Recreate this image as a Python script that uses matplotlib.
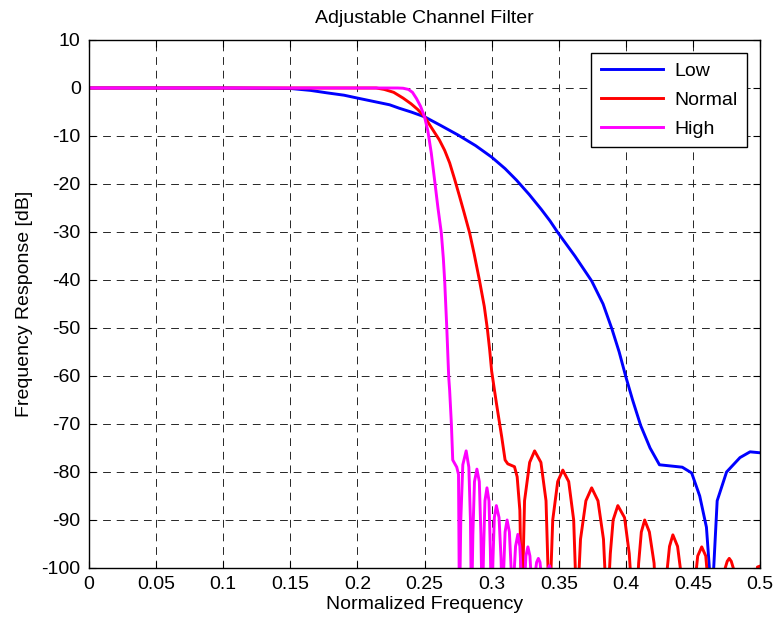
import matplotlib
matplotlib.use('Agg')
import matplotlib.pyplot as plt

plt.rcParams['font.family'] = ['Liberation Sans', 'DejaVu Sans']
plt.rcParams['axes.unicode_minus'] = False

# Low setting (blue)
low_f = [0, 0.1, 0.15, 0.165, 0.177, 0.19, 0.2, 0.212, 0.224, 0.231, 0.24, 0.25,
         0.262, 0.275, 0.288, 0.3, 0.31, 0.3185, 0.328, 0.337, 0.3435, 0.349, 0.362,
         0.3745, 0.383, 0.3896, 0.395, 0.4, 0.405, 0.411, 0.418, 0.425, 0.442,
         0.449, 0.455, 0.46, 0.4635, 0.4645, 0.468, 0.475, 0.485, 0.4925, 0.5]
low_db = [0, 0, -0.1, -0.5, -1.0, -1.5, -2.1, -2.8, -3.5, -4.2, -5.0, -6.0,
          -7.8, -9.8, -12.0, -14.4, -16.8, -19.2, -22.2, -25.3, -27.7, -30.0, -35.0,
          -40.2, -45.0, -50.2, -55.0, -60.2, -65.0, -70.3, -75.0, -78.5, -79.0,
          -80.2, -85.0, -91.5, -105, -105, -86.0, -80.0, -77.0, -75.8, -76.0]

# Normal setting (red)
norm_f = [0, 0.214, 0.22, 0.227, 0.234, 0.24, 0.245, 0.25, 0.255, 0.261, 0.265,
          0.2687, 0.2724, 0.276, 0.2795, 0.2836, 0.287, 0.291, 0.2945, 0.2968,
          0.2985, 0.3, 0.3035, 0.3075, 0.31, 0.312, 0.317, 0.319, 0.321,
          0.3225, 0.3245, 0.3283, 0.332, 0.3367, 0.3405,
          0.343, 0.3455, 0.3492, 0.353, 0.3574, 0.3611,
          0.3635, 0.3662, 0.3702, 0.3745, 0.3792, 0.3833,
          0.386, 0.3884, 0.3905, 0.394, 0.399, 0.4025,
          0.4055, 0.4075, 0.4095, 0.4115, 0.414, 0.4175, 0.421,
          0.423, 0.426, 0.429, 0.4305, 0.4325, 0.435, 0.4385, 0.441,
          0.4425, 0.4465, 0.45, 0.4515, 0.4535, 0.4565, 0.4595, 0.4612,
          0.4625, 0.4675, 0.4725, 0.474, 0.4755, 0.477, 0.4785, 0.48,
          0.481, 0.489, 0.4965, 0.498, 0.5]
norm_db = [0, 0, -0.3, -0.9, -2.1, -3.3, -4.5, -6.0, -8.2, -10.8, -13.0,
           -15.6, -19.0, -22.5, -26.0, -30.2, -34.6, -40.2, -45.5, -50.2,
           -54.5, -59.0, -65.6, -72.7, -77.5, -78.3, -78.9, -81.0, -88.0,
           -110, -86.0, -78.0, -75.6, -78.0, -86.0,
           -110, -90.0, -82.0, -79.6, -82.0, -90.0,
           -110, -94.0, -86.0, -83.3, -86.0, -94.0,
           -110, -97.0, -90.0, -87.0, -89.5, -97.0,
           -110, -110, -99.0, -92.5, -90.0, -92.5, -99.0,
           -110, -106, -110, -101.0, -95.5, -93.1, -95.5, -101.0,
           -110, -106, -110, -103.0, -97.5, -95.6, -97.5, -103.0,
           -110, -106, -110, -100.0, -98.6, -98.0, -98.6, -100.0,
           -110, -106, -110, -99.8, -99.6]

# High setting (magenta)
high_f = [0, 0.23, 0.234, 0.238, 0.241, 0.244, 0.247, 0.25, 0.2525, 0.255,
          0.2575, 0.26, 0.2625, 0.264, 0.265, 0.2666, 0.268, 0.2687, 0.27,
          0.271, 0.274, 0.2753,
          0.276, 0.277, 0.2785, 0.281, 0.283, 0.2842,
          0.285, 0.286, 0.2872, 0.289, 0.2908, 0.292,
          0.293, 0.294, 0.295, 0.2965, 0.298, 0.299,
          0.3, 0.301, 0.302, 0.3035, 0.3055, 0.307,
          0.308, 0.309, 0.31, 0.3115, 0.3132, 0.3145,
          0.3155, 0.3165, 0.3178, 0.3195, 0.321, 0.3218,
          0.3225, 0.3235, 0.3245, 0.3255, 0.327, 0.3285, 0.3297,
          0.3305, 0.3315, 0.3325, 0.3335, 0.3348, 0.336, 0.3368,
          0.3375, 0.3405, 0.3418, 0.343, 0.3442, 0.3455, 0.4, 0.5]
high_db = [0, 0, -0.05, -0.3, -0.9, -2.2, -3.8, -6.0, -9.0, -13.5,
           -19.2, -25.0, -30.2, -35.5, -40.2, -50.2, -60.2, -63.0, -70.0,
           -77.5, -79.0, -80.5,
           -110, -90.0, -78.5, -75.6, -79.0, -90.0,
           -110, -93.0, -82.0, -79.4, -82.0, -93.0,
           -110, -96.0, -86.0, -83.3, -86.0, -96.0,
           -110, -98.0, -89.5, -87.0, -89.5, -98.0,
           -110, -100.0, -92.5, -90.0, -92.5, -100.0,
           -110, -102.0, -95.5, -93.0, -95.5, -100.0,
           -110, -110, -103.0, -97.5, -95.6, -97.5, -103.0,
           -110, -110, -101.0, -98.8, -98.0, -98.8, -101.0,
           -110, -110, -100.5, -99.5, -100.5, -110, -115, -115]

labels = ['Low', 'Normal', 'High']
colors = ['#0000ff', '#ff0000', '#ff00ff']
xticks = [0, 0.05, 0.1, 0.15, 0.2, 0.25, 0.3, 0.35, 0.4, 0.45, 0.5]
xticklabels = ['0', '0.05', '0.1', '0.15', '0.2', '0.25', '0.3', '0.35', '0.4', '0.45', '0.5']
yticks = list(range(-100, 11, 10))

fig = plt.figure(figsize=(7.75, 6.23), dpi=100)
ax = fig.add_axes([0.1148, 0.0883, 0.866, 0.8475])

for f, db, lab, c in zip([low_f, norm_f, high_f], [low_db, norm_db, high_db], labels, colors):
    ax.plot(f, db, color=c, lw=2.1, label=lab)

ax.set_xlim(0, 0.5)
ax.set_ylim(-100, 10)
ax.set_xticks(xticks)
ax.set_xticklabels(xticklabels)
ax.set_yticks(yticks)
ax.tick_params(direction='in', length=5, width=0.8, top=True, right=True,
               labelsize=14, pad=6, colors='black')
ax.grid(True, color='0.15', lw=0.7, linestyle=(0, (8, 6)))
for s in ax.spines.values():
    s.set_linewidth(1.0)

ax.set_title('Adjustable Channel Filter', fontsize=14, pad=12)
ax.set_xlabel('Normalized Frequency', fontsize=14, labelpad=2)
ax.set_ylabel('Frequency Response [dB]', fontsize=14, labelpad=6)

leg = ax.legend(loc='upper right', fontsize=14, fancybox=False, framealpha=1,
                edgecolor='black', handlelength=3.2, handletextpad=0.6,
                borderaxespad=0.65, labelspacing=0.58, borderpad=0.5)
leg.get_frame().set_linewidth(1.0)

fig.savefig('out.png', dpi=100, facecolor='white')
